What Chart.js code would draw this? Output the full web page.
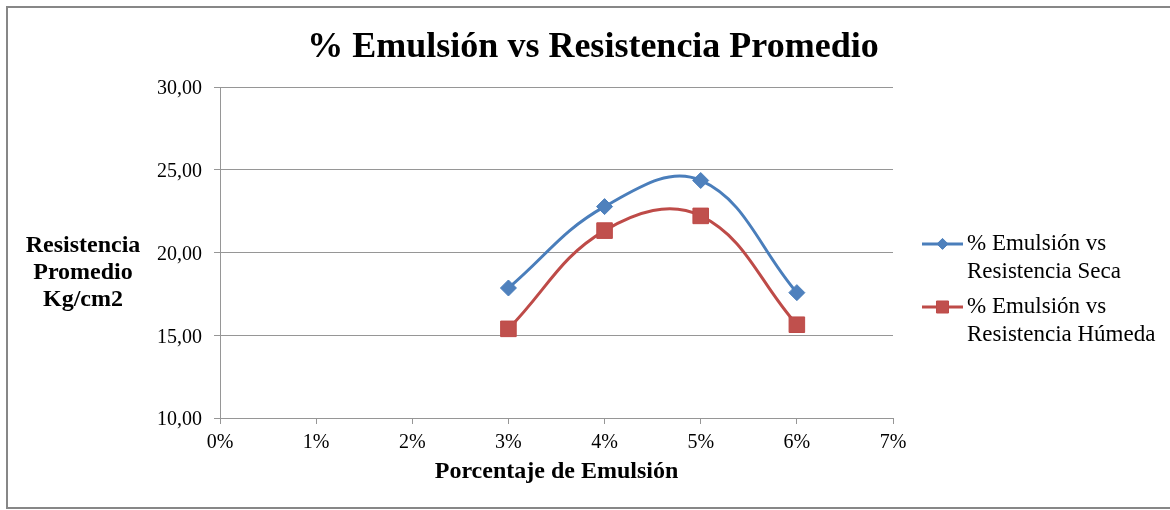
<!DOCTYPE html>
<html>
<head>
<meta charset="utf-8">
<script src="https://cdn.jsdelivr.net/npm/chart.js@4/dist/chart.umd.min.js"></script>
<style>
  html, body { margin: 0; padding: 0; background: #ffffff; }
  #wrap { position: relative; width: 1170px; height: 510px; overflow: hidden; }
  #c { position: absolute; left: 0; top: 0; }
  #frame { position: absolute; left: 6px; top: 6px; width: 1180px; height: 499px; border: 2px solid #878787; pointer-events: none; box-sizing: content-box; }
</style>
</head>
<body>
<div id="wrap">
  <canvas id="c" width="1170" height="510"></canvas>
  <div id="frame"></div>
</div>
<script>
// ---- data ----
const emulsionPct = [3, 4, 5, 6];
const resistenciaSeca = [17.86, 22.78, 24.36, 17.58];
const resistenciaHumeda = [15.39, 21.33, 22.22, 15.64];
const xTickLabels = ['0%', '1%', '2%', '3%', '4%', '5%', '6%', '7%'];
const seriesNames = ['% Emulsión vs Resistencia Seca', '% Emulsión vs Resistencia Húmeda'];
const legendLines = [['% Emulsión vs', 'Resistencia Seca'], ['% Emulsión vs', 'Resistencia Húmeda']];
const chartTitle = '% Emulsión vs Resistencia Promedio';
const xAxisTitle = 'Porcentaje de Emulsión';
const yAxisTitleLines = ['Resistencia', 'Promedio', 'Kg/cm2'];

const FONT = "'Liberation Serif', 'Times New Roman', serif";
const BLUE_LINE = '#4A7EBB', BLUE_FILL = '#4F81BD';
const RED_LINE = '#BE4B48', RED_FILL = '#C0504D';
const GRID = '#969696';

function toPoints(xs, ys) { return xs.map((x, i) => ({ x: x, y: ys[i] })); }

function drawMarker(ctx, style, x, y, r, fill, stroke) {
  ctx.save();
  ctx.beginPath();
  if (style === 'rectRot') {
    ctx.moveTo(x - r, y); ctx.lineTo(x, y - r); ctx.lineTo(x + r, y); ctx.lineTo(x, y + r);
  } else {
    const s = r * Math.SQRT1_2;
    ctx.rect(x - s, y - s, 2 * s, 2 * s);
  }
  ctx.closePath();
  ctx.fillStyle = fill; ctx.fill();
  ctx.lineWidth = 1; ctx.strokeStyle = stroke; ctx.stroke();
  ctx.restore();
}

const layoutPlugin = {
  id: 'layoutTweaks',
  afterInit(chart) {
    const lg = chart.legend;
    const origFit = lg.fit;
    lg.fit = function () { origFit.call(this); this.width = 277; };
  },
  afterLayout(chart) {
    const lg = chart.legend;
    lg.left += 22; lg.right += 22;
    lg.top += 43; lg.bottom += 43;
  },
  afterDraw(chart) {
    const ctx = chart.ctx;
    // horizontal y-axis title
    ctx.save();
    ctx.font = "bold 24px " + FONT;
    ctx.fillStyle = '#000';
    ctx.textAlign = 'center';
    ctx.textBaseline = 'middle';
    const ys = [246, 273, 300];
    yAxisTitleLines.forEach((t, i) => ctx.fillText(t, 83, ys[i]));
    ctx.restore();
    // legend symbols: line + marker
    const boxes = chart.legend.legendHitBoxes || [];
    chart.data.datasets.forEach((ds, i) => {
      const hb = boxes[i];
      if (!hb) return;
      const x0 = hb.left, cy = hb.top + 23 / 2;
      ctx.save();
      ctx.strokeStyle = ds.borderColor; ctx.lineWidth = 3;
      ctx.beginPath(); ctx.moveTo(x0, cy); ctx.lineTo(x0 + 41, cy); ctx.stroke();
      ctx.restore();
      drawMarker(ctx, ds.pointStyle, x0 + 20.5, cy, ds.pointStyle === 'rectRot' ? 5.5 : 8.5, ds.pointBackgroundColor, ds.pointBorderColor);
    });
  }
};

new Chart(document.getElementById('c'), {
  type: 'line',
  data: {
    datasets: [
      {
        label: seriesNames[0],
        data: toPoints(emulsionPct, resistenciaSeca),
        borderColor: BLUE_LINE, backgroundColor: BLUE_FILL,
        borderWidth: 3, tension: 0.4,
        pointStyle: 'rectRot', pointRadius: 8, pointHoverRadius: 8,
        pointBackgroundColor: BLUE_FILL, pointBorderColor: BLUE_LINE, pointBorderWidth: 1
      },
      {
        label: seriesNames[1],
        data: toPoints(emulsionPct, resistenciaHumeda),
        borderColor: RED_LINE, backgroundColor: RED_FILL,
        borderWidth: 3, tension: 0.4,
        pointStyle: 'rect', pointRadius: 11, pointHoverRadius: 11,
        pointBackgroundColor: RED_FILL, pointBorderColor: RED_LINE, pointBorderWidth: 1
      }
    ]
  },
  options: {
    responsive: false,
    animation: false,
    devicePixelRatio: 1,
    layout: { padding: { left: 16, top: 8, right: 0, bottom: 20 } },
    plugins: {
      title: {
        display: true, text: chartTitle, color: '#000',
        font: { family: FONT, size: 36, weight: 'bold' },
        padding: { top: 18, bottom: 18 }
      },
      legend: {
        display: true, position: 'right', align: 'center',
        labels: {
          color: '#000',
          font: { family: FONT, size: 23, lineHeight: 1.22 },
          boxWidth: 33.5, boxHeight: 3, padding: 7,
          generateLabels: (chart) => chart.data.datasets.map((ds, i) => ({
            text: legendLines[i],
            fillStyle: 'rgba(0,0,0,0)', strokeStyle: 'rgba(0,0,0,0)', lineWidth: 0,
            hidden: false, datasetIndex: i
          }))
        }
      },
      tooltip: { enabled: false }
    },
    scales: {
      x: {
        type: 'linear', min: 0, max: 7,
        ticks: {
          stepSize: 1, color: '#000', padding: 7,
          font: { family: FONT, size: 20 },
          callback: (v) => xTickLabels[v]
        },
        grid: { drawOnChartArea: false, drawTicks: true, tickLength: 6, color: GRID },
        border: { display: true, color: GRID, width: 1 },
        title: {
          display: true, text: xAxisTitle, color: '#000',
          font: { family: FONT, size: 24, weight: 'bold' },
          padding: { top: 4, bottom: 4 }
        },
        afterFit: (scale) => { scale.height = 72; }
      },
      y: {
        min: 10, max: 30,
        ticks: {
          stepSize: 5, color: '#000', padding: 12, labelOffset: 2,
          font: { family: FONT, size: 20 },
          callback: (v) => v.toFixed(2).replace('.', ',')
        },
        grid: { color: GRID, tickLength: 6, drawTicks: true },
        border: { display: true, color: GRID, width: 1 },
        afterFit: (scale) => { scale.width = 204; }
      }
    }
  },
  plugins: [layoutPlugin]
});
</script>
</body>
</html>
